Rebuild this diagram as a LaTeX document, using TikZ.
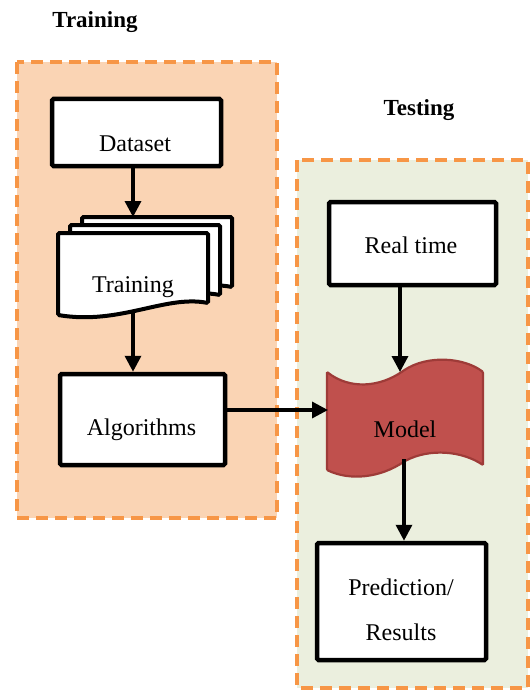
\documentclass[tikz,border=0pt]{standalone}
\usepackage{fontspec}
\setmainfont{Liberation Serif}
\usetikzlibrary{arrows.meta}
\definecolor{trainfill}{HTML}{FAD4B4}
\definecolor{testfill}{HTML}{EBEFDE}
\definecolor{dashorange}{HTML}{F79646}
\definecolor{modelred}{HTML}{C0504D}
\definecolor{modeledge}{HTML}{9E3B38}
\tikzset{
  group/.style={draw=dashorange, line width=3.6pt, dash pattern=on 12pt off 7pt},
  stepbox/.style={draw=black, fill=white, line width=4.5pt, rounded corners=1.5pt, inner sep=0pt},
  page/.style={draw=black, fill=white, line width=4pt, rounded corners=1.5pt},
  lbl/.style={anchor=base, inner sep=0pt, font=\fontsize{24}{28}\selectfont},
  title/.style={anchor=base, inner sep=0pt, font=\fontsize{23}{27}\selectfont\bfseries},
  arr/.style={line width=3.4pt, -{Triangle[length=16pt,width=16pt]}},
}
\begin{document}
\begin{tikzpicture}[x=1pt, y=-1pt]
\useasboundingbox (0,0) rectangle (532,690);
% groups
\draw[group, fill=trainfill] (17,62) rectangle (277,518);
\draw[group, fill=testfill] (297,160) rectangle (528,688);
\node[title] (ttrain) at (95,28) {Training};
\node[title] (ttest) at (419,115) {Testing};
% Dataset
\node[stepbox, minimum width=169pt, minimum height=67pt] (dataset) at (136.5,132.5) {};
\node[lbl] (datasetT) at (135,151) {Dataset};
% multi-document
\foreach \dx/\dy in {24/-16, 12/-8, 0/0}{
  \draw[page, shift={(\dx,\dy)}] (58,315) -- (58,233) -- (208,233) -- (208,303)
     .. controls (165,295) and (120,325) .. (58,315) -- cycle;
}
\coordinate (doctop) at (133,217);
\coordinate (docbot) at (133,311);
\node[lbl] (docT) at (133,292) {Training};
% Algorithms
\node[stepbox, minimum width=165pt, minimum height=91pt] (algo) at (142.5,419.5) {};
\node[lbl] (algoT) at (141.5,435) {Algorithms};
% Real time
\node[stepbox, minimum width=167pt, minimum height=83pt] (rt) at (412.5,243.5) {};
\node[lbl] (rtT) at (411,253) {Real time};
% Model
\draw[fill=modelred, draw=modeledge, line width=2.2pt, rounded corners=1pt]
  (327,372) .. controls (350,390) and (380,387) .. (403,371)
  .. controls (428,354) and (465,358) .. (483,372) -- (483,465)
  .. controls (462,451) and (430,448) .. (405,461)
  .. controls (380,478) and (350,481) .. (327,470) -- cycle;
\coordinate (mtop) at (400,372);
\coordinate (mleft) at (328,410);
\coordinate (mbot) at (404,459);
\node[lbl] (modelT) at (405,437) {Model};
% Prediction
\node[stepbox, minimum width=169pt, minimum height=117pt] (pred) at (401.5,601.5) {};
\node[lbl] (predT1) at (401,595) {Prediction/};
\node[lbl] (predT2) at (401,640) {Results};
% connectors
\draw[arr] (dataset.south -| doctop) -- (doctop);
\draw[arr] (docbot) -- (algo.north -| docbot);
\draw[arr] (algo.east |- mleft) -- (mleft);
\draw[arr] (rt.south -| mtop) -- (mtop);
\draw[arr] (mbot) -- (pred.north -| mbot);
\end{tikzpicture}
\end{document}
